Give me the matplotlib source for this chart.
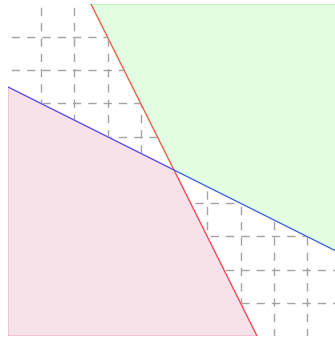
import numpy as np
import matplotlib
matplotlib.use("Agg")
import matplotlib.pyplot as plt
from matplotlib.patches import Polygon

# constraint lines (2x + y = 15, x + 2y = 15)
red_x = [2.5, 7.5]
red_y = [10, 0]
blue_x = [0, 10]
blue_y = [7.5, 2.5]

# feasible region and the region above both lines
feas_x = [0, 0, 5, 7.5]
feas_y = [0, 7.5, 5, 0]
upper_x = [2.5, 10, 10, 5]
upper_y = [10, 10, 2.5, 5]

grid_vals = [1, 2, 3, 4, 5, 6, 7, 8, 9]

plt.rcParams['lines.scale_dashes'] = False
px = 0.72  # one pixel in points at dpi 100

fig = plt.figure(figsize=(3.35, 3.37), dpi=100)
ax = fig.add_axes([7.75 / 335, 0.75 / 337, 332.5 / 335, 332.5 / 337])
ax.set_xlim(0, 10)
ax.set_ylim(0, 10)
ax.axis('off')

dash = (12 * px, (8.3 * px, 7.0 * px))
for g in grid_vals:
    ax.plot([0, 10], [g, g], color='#a4a4a4', lw=1.4 * px, linestyle=dash, zorder=1)
    ax.plot([g, g], [10, 0], color='#a4a4a4', lw=1.4 * px, linestyle=dash, zorder=1)

ax.add_patch(Polygon(np.column_stack([feas_x, feas_y]), closed=True,
                     facecolor='#f8e2ea', edgecolor='#eeaac6',
                     lw=1.6 * px, zorder=2))
ax.add_patch(Polygon(np.column_stack([upper_x, upper_y]), closed=True,
                     facecolor='#e3fde3', edgecolor='#a8f0a8',
                     lw=1.6 * px, zorder=2))

ax.plot(red_x, red_y, color='#ff4848', lw=1.1 * px, zorder=3)
ax.plot(blue_x, blue_y, color='#4050ff', lw=1.1 * px, zorder=3)

fig.savefig('out.png', dpi=100)
